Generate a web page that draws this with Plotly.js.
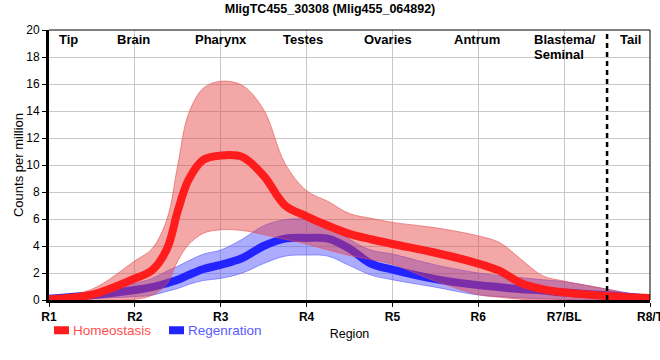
<!DOCTYPE html>
<html>
<head>
<meta charset="utf-8">
<script src="https://cdn.plot.ly/plotly-3.0.1.min.js"></script>
<style>html,body{margin:0;padding:0;background:#fff;}#chart{width:660px;height:360px;}</style>
</head>
<body>
<div id="chart"></div>
<script>
// Region tick labels (category positions 0..7)
const tickPositions = [0, 1, 2, 3, 4, 5, 6, 7];
const tickLabels = ["R1", "R2", "R3", "R4", "R5", "R6", "R7/BL", "R8/T"];

// Sample positions along the worm
const xPos = [0, 0.5, 1, 1.2, 1.375, 1.5, 1.625, 1.8, 2, 2.25, 2.5, 2.75, 3, 3.25, 3.5, 3.75, 4, 4.5, 5, 5.25, 5.5, 5.75, 6, 6.5, 7];

// Homeostasis (red)
const homeoMean  = [0.05, 0.4, 1.6, 2.2, 3.8, 6.6, 8.9, 10.4, 10.7, 10.6, 9.2, 7.0, 6.2, 5.5, 4.9, 4.5, 4.15, 3.5, 2.7, 2.15, 1.25, 0.8, 0.55, 0.3, 0.15];
const homeoUpper = [0.15, 0.8, 2.9, 3.8, 6.0, 10.0, 13.8, 15.7, 16.2, 15.9, 14.1, 10.1, 8.1, 7.3, 6.4, 6.05, 5.75, 5.35, 4.75, 4.25, 3.0, 1.8, 1.4, 0.8, 0.1];
const homeoLower = [-0.3, -0.05, 0.05, 0.35, 1.2, 2.9, 4.1, 4.95, 5.2, 5.15, 4.85, 4.5, 4.15, 3.7, 3.3, 3.0, 2.65, 1.4, 0.4, 0.2, 0.05, 0, 0, -0.1, -0.3];

// Regeneration (blue)
const regenMean  = [0.1, 0.35, 0.74, 0.95, 1.25, 1.5, 1.85, 2.3, 2.6, 3.1, 4.0, 4.55, 4.6, 4.55, 3.8, 2.7, 2.25, 1.55, 1.1, 0.95, 0.8, 0.7, 0.55, 0.35, 0.1];
const regenUpper = [0.15, 0.6, 1.24, 1.6, 2.15, 2.5, 2.9, 3.4, 3.7, 4.5, 5.5, 5.95, 6.0, 5.8, 4.5, 3.7, 3.4, 2.6, 2.0, 1.8, 1.65, 1.5, 1.35, 0.8, 0.2];
const regenLower = [-0.05, 0.1, 0.25, 0.35, 0.65, 0.85, 1.15, 1.45, 1.6, 2.0, 2.7, 3.25, 3.33, 3.25, 2.55, 1.85, 1.5, 0.95, 0.37, 0.25, 0.15, 0.1, 0.05, 0.0, 0.0];

// Region names shown along the top
const regionNames = ["Tip", "Brain", "Pharynx", "Testes", "Ovaries", "Antrum", "Tail"];
const regionNamePos = [0.23, 0.98, 2.0, 2.96, 3.95, 4.98, 6.77];
const blastemaLines = ["Blastema/", "Seminal"];
const blastemaPos = 5.63;
const tailBoundary = 6.5;

const FONT = "Arial, 'Liberation Sans', sans-serif";

function band(upper, lower, fillColor, edgeColor) {
  return [
    {x: xPos, y: upper, type: "scatter", mode: "lines", line: {shape: "spline", color: edgeColor, width: 1}, showlegend: false, hoverinfo: "skip"},
    {x: xPos, y: lower, type: "scatter", mode: "lines", line: {shape: "spline", color: edgeColor, width: 1}, fill: "tonexty", fillcolor: fillColor, showlegend: false, hoverinfo: "skip"}
  ];
}

const traces = [
  ...band(regenUpper, regenLower, "rgba(70,70,255,0.45)", "rgba(90,90,255,0.6)"),
  {x: xPos, y: regenMean, type: "scatter", mode: "lines", name: "Regenration",
   line: {shape: "spline", color: "rgb(35,35,255)", width: 8}},
  ...band(homeoUpper, homeoLower, "rgba(230,60,60,0.45)", "rgba(230,80,80,0.6)"),
  {x: xPos, y: homeoMean, type: "scatter", mode: "lines", name: "Homeostasis",
   line: {shape: "spline", color: "rgb(255,28,28)", width: 8}}
];

const annotations = regionNames.map((t, i) => ({
  x: regionNamePos[i], y: 39, xref: "x", yref: "paper", text: t, showarrow: false,
  font: {family: FONT, size: 13, color: "#000", weight: "bold"}, xanchor: "center", yanchor: "middle"
}));
blastemaLines.forEach((t, i) => annotations.push({
  x: blastemaPos, y: 39 + 15 * i, xref: "x", yref: "paper", text: t, showarrow: false,
  font: {family: FONT, size: 13, color: "#000", weight: "bold"}, xanchor: "left", yanchor: "middle"
}));
// convert pixel y to paper y (plot from 30 to 300)
annotations.forEach(a => { a.y = (300 - a.y) / 270; });

const layout = {
  width: 660, height: 360,
  margin: {l: 49, r: 10, t: 30, b: 60},
  paper_bgcolor: "#fff", plot_bgcolor: "#fff",
  font: {family: FONT, size: 12, color: "#000"},
  title: {text: "MligTC455_30308 (Mlig455_064892)", x: 0.5, xref: "container", y: 0.975, yanchor: "middle",
          font: {family: FONT, size: 12.5, weight: "bold", color: "#000"}},
  xaxis: {
    range: [0, 7], tickvals: tickPositions, ticktext: tickLabels,
    showgrid: true, gridcolor: "#c8c8c8", gridwidth: 1,
    showline: true, linecolor: "#000", linewidth: 3,
    ticks: "outside", ticklen: 4, tickcolor: "#000", tickwidth: 1,
    tickfont: {family: FONT, size: 12, weight: "bold", color: "#000"},
    ticklabeloverflow: "allow",
    zeroline: false,
    title: {text: "Region", font: {family: FONT, size: 12.5, color: "#000"}, standoff: 6}
  },
  yaxis: {
    range: [0, 20], dtick: 2, tick0: 0,
    showgrid: true, gridcolor: "#c8c8c8", gridwidth: 1,
    showline: true, linecolor: "#000", linewidth: 3,
    ticks: "outside", ticklen: 4, tickcolor: "#000", tickwidth: 1,
    tickfont: {family: FONT, size: 12, color: "#000"},
    zeroline: false,
    title: {text: "Counts per million", font: {family: FONT, size: 13, color: "#000"}, standoff: 0}
  },
  showlegend: true,
  legend: {orientation: "h", x: 0, xanchor: "left", y: -0.055, yanchor: "top", traceorder: "reversed",
           font: {family: FONT, size: 13.5}, itemwidth: 30, bgcolor: "rgba(0,0,0,0)"},
  shapes: [
    {type: "line", xref: "paper", yref: "paper", x0: 1, x1: 1, y0: 0, y1: 1, line: {color: "#000", width: 1}},
    {type: "line", xref: "paper", yref: "paper", x0: 0, x1: 1, y0: 1, y1: 1, line: {color: "#000", width: 1}},
    {type: "line", xref: "x", yref: "paper", x0: tailBoundary, x1: tailBoundary, y0: 0, y1: 1,
     line: {color: "#000", width: 2.5, dash: "5px,4px"}}
  ],
  annotations: annotations
};

Plotly.newPlot("chart", traces, layout, {displayModeBar: false, staticPlot: true}).then(() => {
  // legend styling like the reference: short swatches, coloured texts
  const colors = {"Homeostasis": "rgb(255,80,80)", "Regenration": "rgb(90,90,255)"};
  const order = ["Homeostasis", "Regenration"];
  const groups = Array.from(document.querySelectorAll(".legend .traces"));
  let baseX = null, baseY = 0;
  groups.forEach(g => {
    const m = /translate\(([-\d.]+)[ ,]+([-\d.]+)\)/.exec(g.getAttribute("transform") || "");
    if (m) { const tx = parseFloat(m[1]); if (baseX === null || tx < baseX) { baseX = tx; baseY = parseFloat(m[2]); } }
  });
  groups.forEach(g => {
    const txt = g.querySelector(".legendtext");
    if (!txt) return;
    const name = txt.textContent;
    if (colors[name]) txt.style.fill = colors[name];
    txt.setAttribute("x", 24);
    g.querySelectorAll(".legendlines path").forEach(p => p.setAttribute("d", "M5,0h15"));
    const idx = order.indexOf(name);
    if (baseX !== null && idx >= 0) g.setAttribute("transform", "translate(" + (baseX + 115 * idx) + "," + baseY + ")");
  });
});
</script>
</body>
</html>
